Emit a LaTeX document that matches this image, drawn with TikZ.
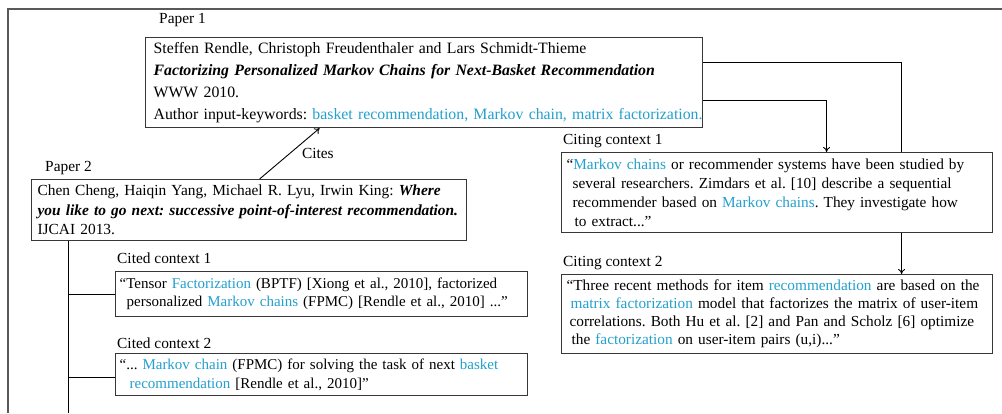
\documentclass[tikz,border=0pt]{standalone}
\usepackage{fontspec}
\setmainfont{Liberation Serif}
\usetikzlibrary{backgrounds,arrows.meta}
\definecolor{kw}{RGB}{35,160,205}
\definecolor{edgegray}{RGB}{55,55,55}
\newcommand{\kwd}[1]{\textcolor{kw}{#1}}
\newcommand{\bi}[1]{\textbf{\textit{#1}}}
\frenchspacing
\tikzset{
  box/.style={draw=edgegray, line width=1.2pt, fill=white, anchor=north west, align=left, inner ysep=0pt},
  lbl/.style={anchor=west, inner sep=0pt, font=\fontsize{15.4}{19}\selectfont},
  conn/.style={line width=0.9pt, draw=black},
  arr/.style={conn, -{To[length=5pt,width=7pt]}},
  framestyle/.style={line width=1.5pt, draw=black!65}
}
\begin{document}
\begin{tikzpicture}[x=1pt,y=-1pt]
\useasboundingbox (0,0) rectangle (1002,413);

% outer frame (cropped)
\draw[framestyle] (1002,9) -- (8,9) -- (8,413);

% labels
\node[lbl] (l1) at (159,20) {Paper 1};
\node[lbl] (l2) at (45,168) {Paper 2};
\node[lbl] (lc1) at (563,141) {Citing context 1};
\node[lbl] (lc2) at (563,263) {Citing context 2};
\node[lbl] (ld1) at (117,258) {Cited context 1};
\node[lbl] (ld2) at (117,343) {Cited context 2};

% boxes
\node[box, font=\fontsize{15.8}{21.7}\selectfont, inner xsep=8pt, text width=541pt, minimum height=90pt] (p1) at (145,37)
{\mbox{Steffen Rendle, Christoph Freudenthaler and Lars Schmidt-Thieme}\\
\mbox{\bi{Factorizing Personalized Markov Chains for Next-Basket Recommendation}}\\
\mbox{WWW 2010.}\\
\mbox{Author input-keywords: \kwd{basket recommendation, Markov chain, matrix factorization.}}};

\node[box, font=\fontsize{15.4}{19.5}\selectfont, inner xsep=6pt, text width=423pt, minimum height=61pt] (p2) at (31,179)
{\mbox{Chen Cheng, Haiqin Yang, Michael R. Lyu, Irwin King: \bi{Where}}\\
\mbox{\bi{you like to go next: successive point-of-interest recommendation.}}\\
\mbox{IJCAI 2013.}};

\node[box, font=\fontsize{15.3}{19}\selectfont, inner xsep=5pt, text width=421pt, minimum height=80pt] (c1) at (561,152)
{\mbox{“\kwd{Markov chains} or recommender systems have been studied by}\\
\mbox{\hspace*{6pt}several researchers. Zimdars et al. [10] describe a sequential}\\
\mbox{\hspace*{6pt}recommender based on \kwd{Markov chains}. They investigate how}\\
\mbox{\hspace*{8pt}to extract...”}};

\node[box, font=\fontsize{15.3}{18}\selectfont, inner xsep=5pt, text width=421pt, minimum height=79pt] (c2) at (561,274)
{\mbox{“Three recent methods for item \kwd{recommendation} are based on the}\\
\mbox{\hspace*{4pt}\kwd{matrix factorization} model that factorizes the matrix of user-item}\\
\mbox{\hspace*{3pt}correlations. Both Hu et al. [2] and Pan and Scholz [6] optimize}\\
\mbox{\hspace*{5pt}the \kwd{factorization} on user-item pairs (u,i)...”}};

\node[box, font=\fontsize{15}{18}\selectfont, inner xsep=4pt, text width=404pt, minimum height=45pt] (d1) at (115,271)
{\mbox{“Tensor \kwd{Factorization} (BPTF) [Xiong et al., 2010], factorized}\\
\mbox{\hspace*{7pt}personalized \kwd{Markov chains} (FPMC) [Rendle et al., 2010] ...”}};

\node[box, font=\fontsize{15}{19}\selectfont, inner xsep=4pt, text width=404pt, minimum height=42pt] (d2) at (115,353)
{\mbox{“... \kwd{Markov chain} (FPMC) for solving the task of next \kwd{basket}}\\
\mbox{\hspace*{10pt}\kwd{recommendation} [Rendle et al., 2010]”}};

\coordinate (trunkend) at (68,413);

\begin{pgfonlayer}{background}
\draw[arr] ([yshift=-25pt]p1.north east) -| ([xshift=124.5pt]c2.north);
\end{pgfonlayer}
\draw[arr] ([yshift=-63pt]p1.north east) -| ([xshift=49.5pt]c1.north);
\draw[arr] ([xshift=10.5pt]p2.north) -- ([xshift=-104.5pt]p1.south)
  node[midway, anchor=west, xshift=12pt, inner sep=0pt, font=\fontsize{15.4}{19}\selectfont] (cites) {Cites};
\draw[conn] (p2.south -| trunkend) -- (trunkend);
\draw[conn] (d1.west) -- (d1.west -| trunkend);
\draw[conn] ([yshift=-3pt]d2.west) -- ([yshift=-3pt]d2.west -| trunkend);
\end{tikzpicture}
\end{document}
